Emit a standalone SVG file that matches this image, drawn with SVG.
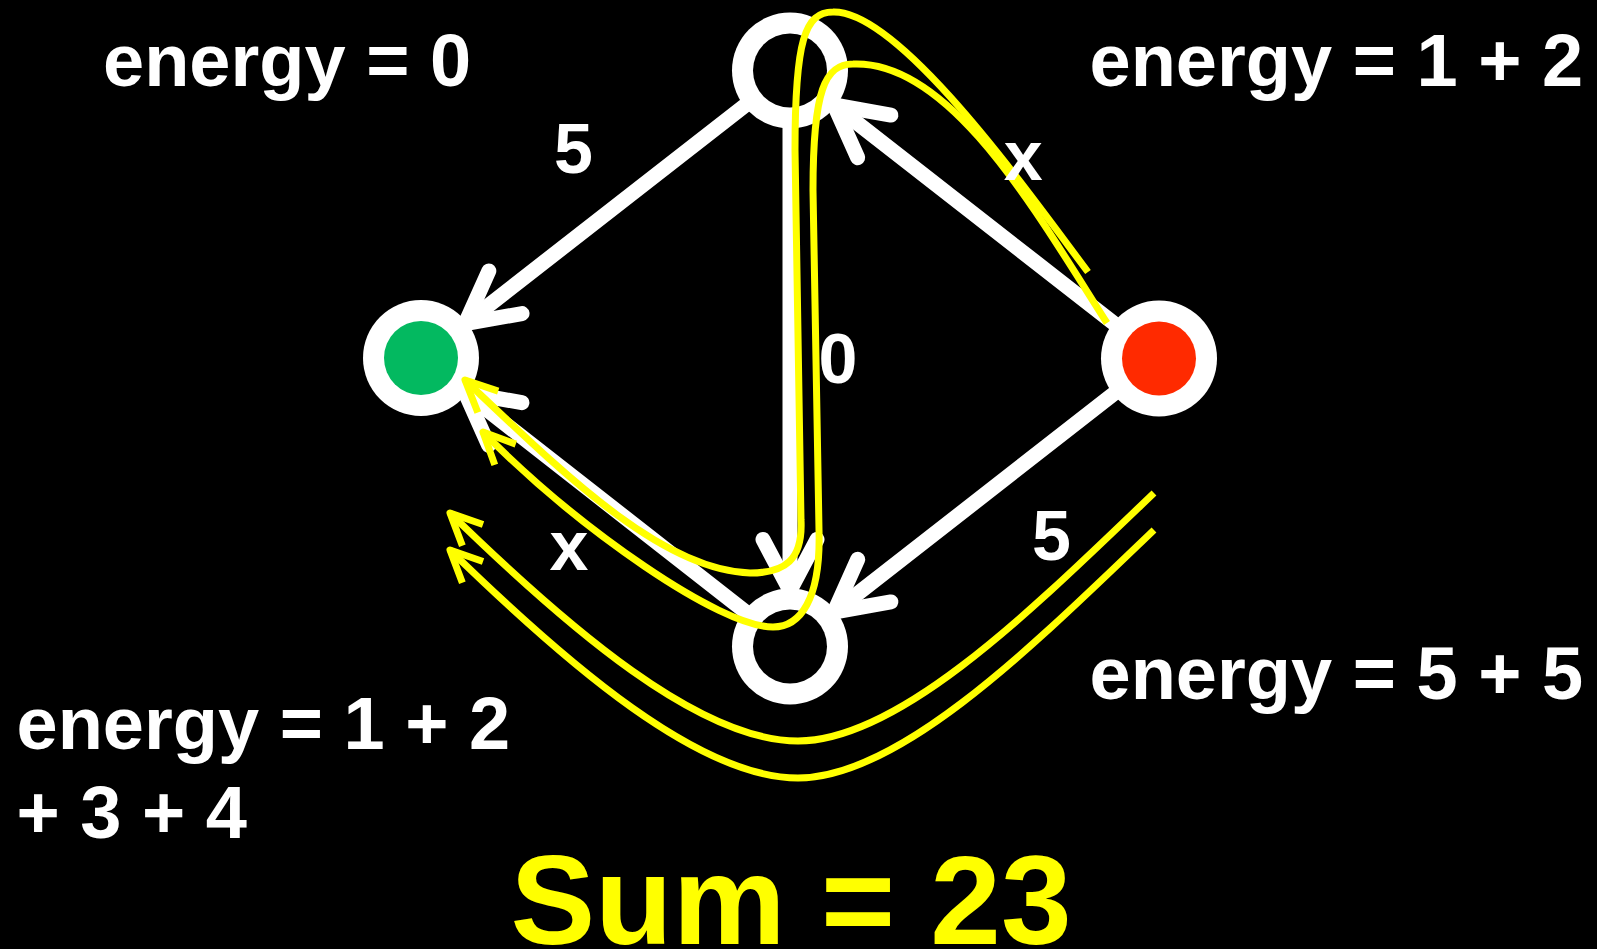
<svg xmlns="http://www.w3.org/2000/svg" width="1597" height="949" viewBox="0 0 1597 949">
<style>
.ring{fill:#fff}
.txt{font-family:"Liberation Sans",Arial,sans-serif;font-weight:bold;fill:#fff}
.lbl{font-family:"Liberation Sans",Arial,sans-serif;font-weight:bold;fill:#fff;font-size:70px;text-anchor:middle}
.edge{fill:none;stroke:#fff;stroke-width:15;stroke-linecap:round;marker-end:url(#wa)}
.path{fill:none;stroke:#FFFF00;stroke-width:7;marker-end:url(#ya)}
</style>
<defs>
<marker id="wa" markerUnits="userSpaceOnUse" markerWidth="140" markerHeight="140" viewBox="-70 -70 140 140" refX="0" refY="0" orient="auto" overflow="visible">
<path d="M-51,-27 L0,0 L-51,27" fill="none" stroke="#fff" stroke-width="15" stroke-linecap="round" stroke-linejoin="round"/>
</marker>
<marker id="ya" markerUnits="userSpaceOnUse" markerWidth="80" markerHeight="80" viewBox="-40 -40 80 80" refX="0" refY="0" orient="auto" overflow="visible">
<path d="M-31.7,-14.8 L0,0 L-31.7,14.8" fill="none" stroke="#FFFF00" stroke-width="7" stroke-linecap="butt" stroke-linejoin="round"/>
</marker>
</defs>
<rect width="1597" height="949" fill="#000"/>
<g id="node-top"><circle class="ring" cx="790" cy="70.5" r="58"/><circle cx="790" cy="70.5" r="37" fill="#000"/></g>
<g id="node-left"><circle class="ring" cx="421" cy="358" r="58"/><circle cx="421" cy="358" r="37" fill="#03B960"/></g>
<g id="node-right"><circle class="ring" cx="1159" cy="358.5" r="58"/><circle cx="1159" cy="358.5" r="37" fill="#FF2A00"/></g>
<g id="node-bottom"><circle class="ring" cx="790" cy="646.5" r="58"/><circle cx="790" cy="646.5" r="37" fill="#000"/></g>
<g id="connectors">
<line class="edge" x1="744.2" y1="106.1" x2="465.2" y2="323.6"/>
<line class="edge" x1="1113.3" y1="322.8" x2="834.1" y2="105"/>
<line class="edge" x1="1113.3" y1="394.2" x2="834.1" y2="612"/>
<line class="edge" x1="744.3" y1="610.8" x2="465.1" y2="392.5"/>
<line class="edge" x1="790" y1="128.5" x2="790" y2="590.5"/>
<path class="path" d="M1088,272 C1030,195 900,10 833,12 C805,12 795,40 795,150 L801,520 C803,560 785,573 750,573 C660,570 560,470 465,380"/>
<path class="path" d="M1107,323 C1035,210 950,60 853,64 C825,64 813,90 813,190 L819,530 C821,600 800,627 773,627 C720,627 580,530 483,432"/>
<path class="path" d="M1154,493 C1034,608 900,741 798,741 C700,741 570,630 450,513"/>
<path class="path" d="M1154,530 C1034,645 900,778 798,778 C700,778 570,667 450,550"/>
</g>
<g id="labels">
<text class="lbl" x="573.4" y="173">5</text>
<text class="lbl" x="1023.3" y="180">x</text>
<text class="lbl" x="838" y="383">0</text>
<text class="lbl" x="569" y="570">x</text>
<text class="lbl" x="1051.5" y="560">5</text>
</g>
<g id="annotations">
<text class="txt" x="103" y="86" font-size="74">energy = 0</text>
<text class="txt" x="1089.5" y="86" font-size="74">energy = 1 + 2</text>
<text class="txt" x="1089.5" y="699" font-size="74">energy = 5 + 5</text>
<text class="txt" x="16.5" y="749" font-size="74">energy = 1 + 2</text>
<text class="txt" x="16.5" y="838" font-size="74">+ 3 + 4</text>
<text x="791" y="944" font-family="'Liberation Sans',Arial,sans-serif" font-weight="bold" font-size="127" fill="#FFFF00" text-anchor="middle">Sum = 23</text>
</g>
</svg>
